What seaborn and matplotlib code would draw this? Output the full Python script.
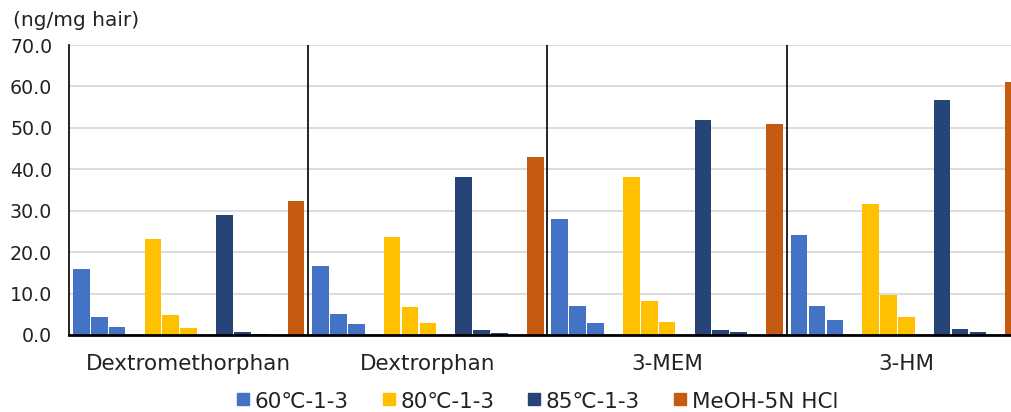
import pandas as pd
import numpy as np
import matplotlib.pyplot as plt
import matplotlib.patches as mpatches
import seaborn as sns

# Data (ng/mg hair)
compounds = ["Dextromethorphan", "Dextrorphan", "3-MEM", "3-HM"]
c60 = [[15.9, 4.3, 1.85], [16.7, 5.1, 2.65], [28.0, 6.9, 2.9], [24.1, 7.1, 3.6]]
c80 = [[23.1, 4.9, 1.6], [23.6, 6.7, 2.9], [38.1, 8.1, 3.05], [31.7, 9.7, 4.3]]
c85 = [[28.9, 0.8, 0.25], [38.1, 1.1, 0.5], [52.0, 1.3, 0.7], [56.7, 1.45, 0.7]]
meoh = [32.3, 43.0, 50.9, 61.0]

series_names = ["60℃-1-3", "80℃-1-3", "85℃-1-3", "MeOH-5N HCl"]
colors = ["#4472C4", "#FFC000", "#264478", "#C55A11"]

# slots inside each group: 3 + blank + 3 + blank + 3 + blank + 1
slots = ["60-1", "60-2", "60-3", "b1", "80-1", "80-2", "80-3", "b2",
         "85-1", "85-2", "85-3", "b3", "MeOH"]
slot_colors = [colors[0]] * 3 + ["white"] + [colors[1]] * 3 + ["white"] + \
              [colors[2]] * 3 + ["white"] + [colors[3]]

rows = []
for i, comp in enumerate(compounds):
    for k in range(3):
        rows.append((comp, f"60-{k+1}", c60[i][k]))
        rows.append((comp, f"80-{k+1}", c80[i][k]))
        rows.append((comp, f"85-{k+1}", c85[i][k]))
    rows.append((comp, "MeOH", meoh[i]))
df = pd.DataFrame(rows, columns=["compound", "slot", "value"])

sns.set_style("white")
plt.rcParams['font.family'] = ['DejaVu Sans']

W, H = 1012, 412
fig = plt.figure(figsize=(W / 100, H / 100), dpi=100)
ax = fig.add_axes([69 / W, 77 / H, 957 / W, 290 / H])

sns.barplot(data=df, x="compound", y="value", hue="slot", hue_order=slots,
            order=compounds, palette=dict(zip(slots, slot_colors)),
            width=0.972, gap=0.07, dodge=True, saturation=1,
            edgecolor="none", legend=False, ax=ax)

ax.set_xlim(-0.5, 3.5)
ax.set_ylim(0, 70)
ax.set_yticks(np.arange(0, 71, 10))
ax.set_yticklabels([f"{v:.1f}" for v in np.arange(0, 71, 10)], fontsize=13.7, color="#222222")
ax.set_xticks(range(len(compounds)))
ax.set_xticklabels(compounds, fontsize=15.5, color="#222222")
ax.tick_params(axis="y", length=0, pad=12)
ax.tick_params(axis="x", length=0, pad=14)
ax.set_xlabel("")
ax.set_ylabel("")

ax.grid(axis="y", color="#D9D9D9", linewidth=1.3)
ax.set_axisbelow(True)
for s in ["top", "right"]:
    ax.spines[s].set_visible(False)
ax.spines["left"].set_color("black")
ax.spines["left"].set_linewidth(1.2)
ax.spines["bottom"].set_color("black")
ax.spines["bottom"].set_linewidth(2)

for xsep in [0.5, 1.5, 2.5]:
    ax.axvline(xsep, color="black", linewidth=1.2)

fig.text(13 / W, 1 - 20 / H, "(ng/mg hair)", fontsize=14.5, color="#222222",
         va="center", ha="left")

# legend placed by hand, as in the original
legend_x = [237, 383, 528, 674]
for lx, c, n in zip(legend_x, colors, series_names):
    fig.patches.append(mpatches.Rectangle((lx / W, 1 - 405 / H), 12 / W, 12 / H,
                                          color=c, transform=fig.transFigure))
    fig.text((lx + 18) / W, 1 - 402 / H, n, fontsize=15.5, color="#222222",
             va="center", ha="left")

fig.savefig("out.png", dpi=100)
